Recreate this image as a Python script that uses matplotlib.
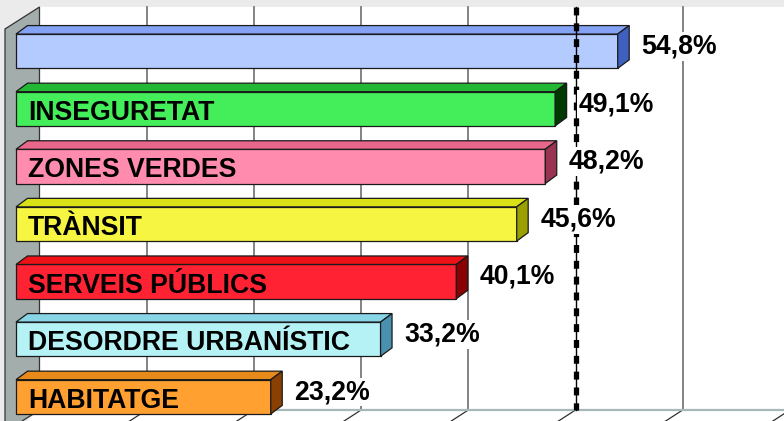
import matplotlib.pyplot as plt
from matplotlib.patches import Polygon

plt.rcParams['font.family'] = ['Liberation Sans', 'DejaVu Sans']

# data
categories = ['', 'INSEGURETAT', 'ZONES VERDES', 'TRÀNSIT',
              'SERVEIS PÚBLICS', 'DESORDRE URBANÍSTIC', 'HABITATGE']
values = [54.8, 49.1, 48.2, 45.6, 40.1, 33.2, 23.2]
grid_values = [0, 10, 20, 30, 40, 50, 60, 70]
ref_value = 50

# bar colours: front, top, side
front_colors = ['#b3cbff', '#44ee5a', '#ff8caf', '#f5f542', '#ff2233', '#b4f2f5', '#ffa030']
top_colors = ['#85a3f5', '#22b833', '#e8678a', '#d8e018', '#ee1115', '#88d5e8', '#e88a1a']
side_colors = ['#4060c0', '#003a00', '#993352', '#9aa000', '#8b0000', '#4a90b0', '#8a4000']

# layout (pixel based helpers)
W, H = 784, 421
PX_PER_PCT = 10.98
X0_PX = 16
ROW_PX = 57.6
ROW0_PX = 51.2


def px_x(p):
    return (p - X0_PX) / PX_PER_PCT


def px_y(p):
    return (p - ROW0_PX) / ROW_PX


def wall_x(v):
    # back wall has its own (slightly smaller) scale
    return px_x(39.5 + 10.72 * v)


fig = plt.figure(figsize=(W / 100, H / 100), dpi=100, facecolor='#ebebeb')
ax = fig.add_axes([0, 0, 1, 1])
ax.set_xlim(px_x(0), px_x(W))
ax.set_ylim(px_y(H), px_y(0))
ax.axis('off')

# back wall + floor
ax.add_patch(Polygon([(px_x(39.5), px_y(7)), (px_x(W + 5), px_y(7)),
                      (px_x(W + 5), px_y(410)), (px_x(39.5), px_y(410))],
                     closed=True, fc='white', ec='none', zorder=0))
ax.add_patch(Polygon([(px_x(39.5), px_y(410)), (px_x(W + 5), px_y(410)),
                      (px_x(W + 5), px_y(440)), (px_x(5), px_y(440))],
                     closed=True, fc='white', ec='none', zorder=0))

# gridlines on back wall and floor
for v in grid_values[1:]:
    if v == ref_value:
        continue
    ax.plot([wall_x(v), wall_x(v)], [px_y(7), px_y(410)], color='#7a7a7a', lw=1.3, zorder=1)
for v in grid_values[1:]:
    gx = 39.5 + 10.72 * v
    ax.plot([px_x(gx), px_x(gx - 34)], [px_y(410), px_y(432)], color='#303030', lw=0.9, zorder=1)
ax.plot([px_x(39.5), px_x(W + 5)], [px_y(410), px_y(410)], color='#a6b8b8', lw=1.6, zorder=1)

# left wall
ax.add_patch(Polygon([(px_x(5), px_y(29)), (px_x(39.5), px_y(7)),
                      (px_x(39.5), px_y(410)), (px_x(5), px_y(432))],
                     closed=True, fc='#a3adab', ec='#333333', lw=0.9, zorder=1.5))

# 3D bars
bar_h = 0.595
dx = 11.5 / PX_PER_PCT
dy = 8.5 / ROW_PX
rows = list(range(len(values)))
ax.barh(rows, values, height=bar_h, left=0, color=front_colors,
        edgecolor='#1a1a1a', linewidth=0.9, zorder=2)
for i, v in enumerate(values):
    top = i - bar_h / 2
    bot = i + bar_h / 2
    ax.add_patch(Polygon([(0, top), (v, top), (v + dx, top - dy), (dx, top - dy)],
                         closed=True, fc=top_colors[i], ec='#1a1a1a', lw=0.9, zorder=2))
    ax.add_patch(Polygon([(v, top), (v + dx, top - dy), (v + dx, bot - dy), (v, bot)],
                         closed=True, fc=side_colors[i], ec='#1a1a1a', lw=0.9, zorder=2))

# reference dashed line at 50%
rx = wall_x(ref_value)
ax.plot([rx, rx], [px_y(7), px_y(410)], color='black', lw=1.0, zorder=3)
ax.plot([rx, rx], [px_y(7), px_y(410)], color='black', lw=3.8,
        dashes=(1.5, 1.5), zorder=3)

# labels
for i, (cat, v) in enumerate(zip(categories, values)):
    if cat:
        ax.text(px_x(28), i + 11 / ROW_PX, cat, fontsize=19.2, fontweight='bold',
                color='black', ha='left', va='baseline', zorder=4)
    ax.text(v + dx + 12 / PX_PER_PCT, i + 2.3 / ROW_PX, f'{v:.1f}%'.replace('.', ','),
            fontsize=19.2, fontweight='bold', color='black', ha='left', va='baseline',
            bbox=dict(fc='white', ec='none', pad=1), zorder=4)

fig.savefig('out.png', dpi=100, facecolor=fig.get_facecolor())
